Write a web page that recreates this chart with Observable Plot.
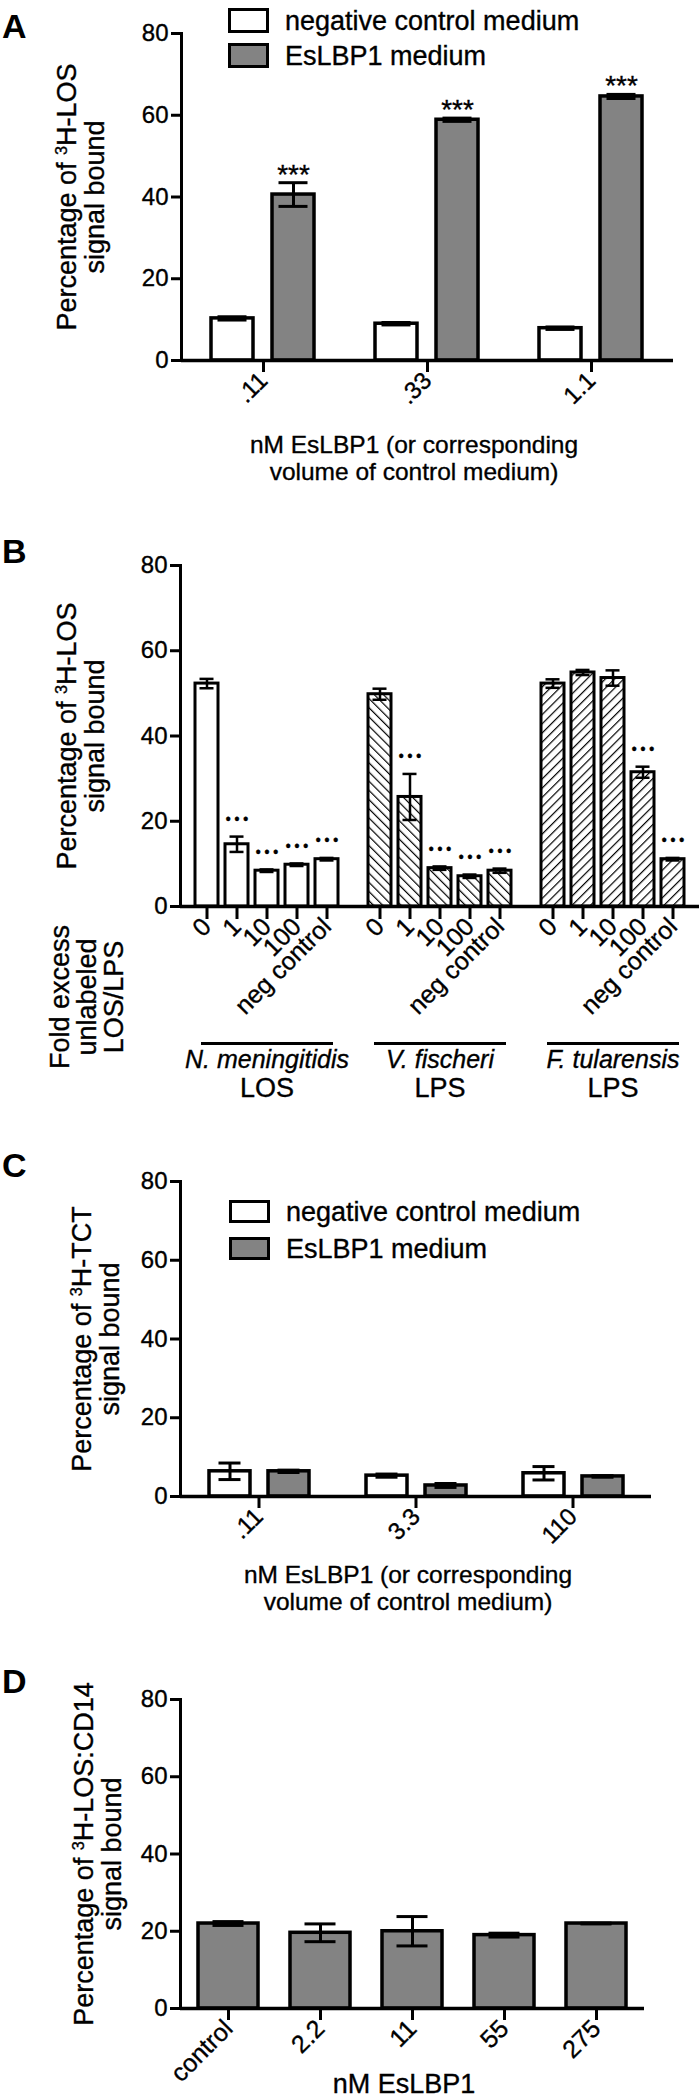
<!DOCTYPE html>
<html>
<head>
<meta charset="utf-8">
<script src="https://cdn.jsdelivr.net/npm/d3@7"></script>
<script src="https://cdn.jsdelivr.net/npm/@observablehq/plot@0.6"></script>
<style>
  html, body { margin: 0; padding: 0; background: #fff; }
  #root { position: relative; width: 700px; height: 2099px; overflow: hidden;
          font-family: "Liberation Sans", Arial, Helvetica, sans-serif; color: #000; }
  .panel { position: absolute; left: 0; }
  .panel text { stroke: #000; stroke-width: 0.35px; }
  .letter { position: absolute; font-weight: bold; font-size: 34px; line-height: 34px; }
  .ylab { position: absolute; width: max-content; transform: translate(-50%, -50%) rotate(-90deg); white-space: nowrap;
          text-align: center; font-size: 27px; line-height: 28px; -webkit-text-stroke: 0.35px #000; }
  .xlab { position: absolute; width: max-content; transform: translateX(-50%); white-space: nowrap; text-align: center;
          font-size: 24.5px; line-height: 27px; -webkit-text-stroke: 0.35px #000; }
  .legbox { position: absolute; box-sizing: border-box; border: 3.5px solid #000; }
  .legtxt { position: absolute; width: max-content; font-size: 27px; line-height: 27px; transform: translateY(-50%); white-space: nowrap;
            -webkit-text-stroke: 0.35px #000; }
  sup { font-size: 60%; vertical-align: 0.55em; line-height: 0; }
</style>
</head>
<body>
<div id="root"></div>
<script>
// ---------- DATA ----------
// Panel A
const doseA = [".11", ".33", "1.1"];
const mediumNames = ["negative control medium", "EsLBP1 medium"];
const controlA = [10.3, 9.0, 7.9];
const controlErrA = [0.4, 0.3, 0.3];
const eslbpA = [40.6, 58.9, 64.6];
const eslbpErrA = [2.9, 0.4, 0.5];
const sigA = ["***", "***", "***"];

// Panel B
const foldLabels = ["0", "1", "10", "100", "neg control"];
const species = ["N. meningitidis", "V. fischeri", "F. tularensis"];
const ligand = ["LOS", "LPS", "LPS"];
const nmB = [52.3, 14.6, 8.4, 9.8, 11.1];
const nmErrB = [1.1, 1.8, 0.3, 0.3, 0.3];
const vfB = [49.8, 25.7, 9.0, 7.1, 8.4];
const vfErrB = [1.3, 5.4, 0.4, 0.4, 0.5];
const ftB = [52.3, 54.9, 53.6, 31.5, 11.1];
const ftErrB = [1.0, 0.6, 1.8, 1.3, 0.3];
const sigNmB = ["", "• • •", "• • •", "• • •", "• • •"];
const sigVfB = ["", "• • •", "• • •", "• • •", "• • •"];
const sigFtB = ["", "", "", "• • •", "• • •"];

// Panel C
const doseC = [".11", "3.3", "110"];
const controlC = [6.4, 5.3, 5.9];
const controlErrC = [2.1, 0.4, 1.7];
const eslbpC = [6.4, 2.8, 5.1];
const eslbpErrC = [0.3, 0.5, 0.2];

// Panel D
const doseD = ["control", "2.2", "11", "55", "275"];
const valueD = [22.0, 19.6, 20.0, 19.0, 22.0];
const errD = [0.5, 2.3, 3.8, 0.5, 0.1];

const yTicks = [0, 20, 40, 60, 80];

// ---------- HELPERS ----------
const FONT = '"Liberation Sans", Arial, Helvetica, sans-serif';
const root = document.getElementById("root");

function place(node, top) {
  node.classList.add("panel");
  node.style.top = top + "px";
  root.appendChild(node);
}
function addDiv(cls, css, html) {
  const d = document.createElement("div");
  d.className = cls;
  Object.assign(d.style, css);
  d.innerHTML = html;
  root.appendChild(d);
  return d;
}
const baseStyle = {fontFamily: FONT, fontSize: "24px", color: "#000", background: "transparent", overflow: "visible"};

function groupedRows(doses, ctrl, ctrlErr, esl, eslErr, sig) {
  return doses.flatMap((d, i) => [
    {dose: d, medium: mediumNames[0], value: ctrl[i], err: ctrlErr[i], sig: ""},
    {dose: d, medium: mediumNames[1], value: esl[i], err: eslErr[i], sig: sig ? sig[i] : ""}
  ]);
}

function groupedPlot(rows, doses, o) {
  return Plot.plot({
    width: 700, height: o.height,
    marginTop: 33, marginBottom: o.marginBottom, marginLeft: o.marginLeft, marginRight: o.marginRight,
    style: baseStyle,
    fx: {domain: doses, padding: 0, label: null},
    x: {domain: mediumNames, paddingInner: 0.31, paddingOuter: 0.48, axis: null, label: null},
    y: {domain: [0, 80], label: null},
    color: {domain: mediumNames, range: ["#ffffff", "#838383"]},
    marks: [
      Plot.barY(rows, {fx: "dose", x: "medium", y: "value", fill: "medium", stroke: "#000", strokeWidth: 3.5}),
      Plot.ruleX(rows, {fx: "dose", x: "medium", y1: d => d.value - d.err, y2: d => d.value + d.err, strokeWidth: 3}),
      Plot.tickY(rows, {fx: "dose", x: "medium", y: d => d.value + d.err, strokeWidth: 3, insetLeft: o.cap, insetRight: o.cap}),
      Plot.tickY(rows, {fx: "dose", x: "medium", y: d => d.value - d.err, strokeWidth: 3, insetLeft: o.cap, insetRight: o.cap}),
      Plot.text(rows, {fx: "dose", x: "medium", y: d => d.value + d.err, text: "sig", dy: -8, fontSize: 28}),
      Plot.ruleY([0], {strokeWidth: 3.5}),
      Plot.frame({anchor: "left", facetAnchor: "left", strokeWidth: 3}),
      Plot.axisY({ticks: yTicks, tickSize: 10, tickPadding: 3, strokeWidth: 3, fontSize: 24, label: null}),
      Plot.axisFx({anchor: "bottom", tickSize: 12, tickPadding: 4, strokeWidth: 3, tickRotate: -45, fontSize: 24, label: null})
    ]
  });
}

// ---------- PANEL A ----------
const rowsA = groupedRows(doseA, controlA, controlErrA, eslbpA, eslbpErrA, sigA);
place(groupedPlot(rowsA, doseA, {height: 420, marginBottom: 60, marginLeft: 181, marginRight: 27, cap: 6.5}), 0);

// ---------- PANEL B ----------
const seriesB = [[nmB, nmErrB, sigNmB], [vfB, vfErrB, sigVfB], [ftB, ftErrB, sigFtB]];
const rowsB = species.flatMap((s, g) => foldLabels.map((f, i) => ({
  species: s, fold: f, value: seriesB[g][0][i], err: seriesB[g][1][i], sig: seriesB[g][2][i]
})));
const svgB = Plot.plot({
  width: 700, height: 583, marginTop: 33, marginBottom: 209, marginLeft: 179, marginRight: 0,
  style: baseStyle,
  fx: {domain: species, padding: 0, axis: null, label: null},
  x: {domain: foldLabels, paddingInner: 0.24, paddingOuter: 0.47, label: null},
  y: {domain: [0, 80], label: null},
  color: {domain: species, range: ["#ffffff", "url(#hatchBack)", "url(#hatchFwd)"]},
  marks: [
    Plot.barY(rowsB, {fx: "species", x: "fold", y: "value", fill: "species", stroke: "#000", strokeWidth: 3}),
    Plot.ruleX(rowsB, {fx: "species", x: "fold", y1: d => d.value - d.err, y2: d => d.value + d.err, strokeWidth: 2.5}),
    Plot.tickY(rowsB, {fx: "species", x: "fold", y: d => d.value + d.err, strokeWidth: 2.5, insetLeft: 4.5, insetRight: 4.5}),
    Plot.tickY(rowsB, {fx: "species", x: "fold", y: d => d.value - d.err, strokeWidth: 2.5, insetLeft: 4.5, insetRight: 4.5}),
    Plot.text(rowsB, {fx: "species", x: "fold", y: d => d.value + d.err, text: "sig", dy: -17, fontSize: 14, fontWeight: "bold"}),
    Plot.ruleY([0], {strokeWidth: 3.5}),
    Plot.frame({anchor: "left", facetAnchor: "left", strokeWidth: 3}),
    Plot.axisY({ticks: yTicks, tickSize: 10, tickPadding: 3, strokeWidth: 3, fontSize: 24, label: null}),
    Plot.axisX({anchor: "bottom", tickSize: 13, tickPadding: 3, strokeWidth: 3, tickRotate: -45, fontSize: 25, label: null}),
    Plot.ruleY([0], {dy: 137, insetLeft: 21, insetRight: 20, strokeWidth: 3}),
    Plot.text(species, {fx: d => d, text: d => d, frameAnchor: "bottom", dy: 161, fontStyle: "italic", fontSize: 25}),
    Plot.text(species, {fx: d => d, text: (d, i) => ligand[i], frameAnchor: "bottom", dy: 190, fontSize: 27})
  ]
});
d3.select(svgB).insert("defs", ":first-child").html(`
  <pattern id="hatchBack" patternUnits="userSpaceOnUse" width="6.5" height="6.5" patternTransform="rotate(-45)">
    <rect width="6.5" height="6.5" fill="#fff"></rect>
    <line x1="0" y1="0" x2="0" y2="6.5" stroke="#000" stroke-width="2.4"></line>
  </pattern>
  <pattern id="hatchFwd" patternUnits="userSpaceOnUse" width="6.5" height="6.5" patternTransform="rotate(45)">
    <rect width="6.5" height="6.5" fill="#fff"></rect>
    <line x1="0" y1="0" x2="0" y2="6.5" stroke="#000" stroke-width="2.4"></line>
  </pattern>`);
place(svgB, 532);

// ---------- PANEL C ----------
const rowsC = groupedRows(doseC, controlC, controlErrC, eslbpC, eslbpErrC, null);
place(groupedPlot(rowsC, doseC, {height: 405, marginBottom: 57, marginLeft: 180, marginRight: 49, cap: 9.5}), 1148);

// ---------- PANEL D ----------
const rowsD = doseD.map((d, i) => ({dose: d, value: valueD[i], err: errD[i]}));
const svgD = Plot.plot({
  width: 700, height: 433, marginTop: 33, marginBottom: 91, marginLeft: 180, marginRight: 56,
  style: baseStyle,
  x: {domain: doseD, paddingInner: 0.35, paddingOuter: 0.18, label: null},
  y: {domain: [0, 80], label: null},
  marks: [
    Plot.barY(rowsD, {x: "dose", y: "value", fill: "#838383", stroke: "#000", strokeWidth: 3.5}),
    Plot.ruleX(rowsD, {x: "dose", y1: d => d.value - d.err, y2: d => d.value + d.err, strokeWidth: 3}),
    Plot.tickY(rowsD, {x: "dose", y: d => d.value + d.err, strokeWidth: 3, insetLeft: 14.5, insetRight: 14.5}),
    Plot.tickY(rowsD, {x: "dose", y: d => d.value - d.err, strokeWidth: 3, insetLeft: 14.5, insetRight: 14.5}),
    Plot.ruleY([0], {strokeWidth: 3.5}),
    Plot.frame({anchor: "left", strokeWidth: 3}),
    Plot.axisY({ticks: yTicks, tickSize: 10, tickPadding: 3, strokeWidth: 3, fontSize: 24, label: null}),
    Plot.axisX({anchor: "bottom", tickSize: 12, tickPadding: 4, strokeWidth: 3, tickRotate: -45, fontSize: 25, label: null})
  ]
});
place(svgD, 1666);

// ---------- TEXT OVERLAYS ----------
// panel letters
addDiv("letter", {left: "2px", top: "9px"}, "A");
addDiv("letter", {left: "2px", top: "534px"}, "B");
addDiv("letter", {left: "2px", top: "1148px"}, "C");
addDiv("letter", {left: "2px", top: "1664px"}, "D");

// y-axis titles
addDiv("ylab", {left: "81px", top: "197px"}, "Percentage of <sup>3</sup>H-LOS<br>signal bound");
addDiv("ylab", {left: "81px", top: "736px"}, "Percentage of <sup>3</sup>H-LOS<br>signal bound");
addDiv("ylab", {left: "87px", top: "997px", lineHeight: "27px"}, "Fold excess<br>unlabeled<br>LOS/LPS");
addDiv("ylab", {left: "96px", top: "1339px"}, "Percentage of <sup>3</sup>H-TCT<br>signal bound");
addDiv("ylab", {left: "98px", top: "1854px"}, "Percentage of <sup>3</sup>H-LOS:CD14<br>signal bound");

// x-axis titles
addDiv("xlab", {left: "414px", top: "431px"}, "nM EsLBP1 (or corresponding<br>volume of control medium)");
addDiv("xlab", {left: "408px", top: "1561px"}, "nM EsLBP1 (or corresponding<br>volume of control medium)");
addDiv("xlab", {left: "404px", top: "2071px", fontSize: "27px"}, "nM EsLBP1");

// legends (A and C)
const legendFills = ["#ffffff", "#838383"];
function legend(x, ys, h) {
  mediumNames.forEach((name, i) => {
    addDiv("legbox", {left: x + "px", top: ys[i] + "px", width: "41px", height: h + "px", background: legendFills[i]}, "");
    addDiv("legtxt", {left: (x + 57) + "px", top: (ys[i] + h / 2) + "px"}, name);
  });
}
legend(228, [8, 43], 25);
legend(229, [1200, 1237], 23);
</script>
</body>
</html>
